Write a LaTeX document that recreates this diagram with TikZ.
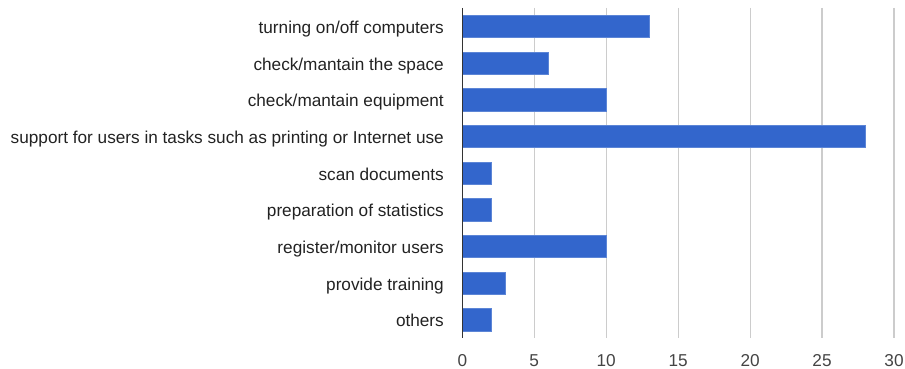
\documentclass[tikz,border=0pt]{standalone}
\usepackage{fontspec}
\setmainfont{Liberation Sans}
\definecolor{barblue}{HTML}{3366CC}
\definecolor{gridgray}{HTML}{CCCCCC}
\definecolor{axisdark}{HTML}{333333}
\definecolor{labeltext}{HTML}{222222}
\definecolor{ticktext}{HTML}{444444}
\begin{document}
\begin{tikzpicture}[x=1pt,y=-1pt,
  bar/.style={fill=barblue,draw=barblue!80!white,line width=0.6pt},
  gridline/.style={draw=gridgray,line width=1.2pt},
  axisline/.style={draw=axisdark,line width=1.3pt},
  catlabel/.style={anchor=east,inner sep=0pt,text=labeltext,
    font=\fontsize{17.2}{20}\selectfont,text height=14.5pt,text depth=0pt},
  ticklabel/.style={anchor=center,inner sep=0pt,text=ticktext,
    font=\fontsize{17.2}{20}\selectfont,text height=12pt,text depth=0pt}]
  \useasboundingbox (0,0) rectangle (905,369);
  % value axis scale: 0 at x=462.3, 14.39 per unit; plot from y=8 to y=338
  \def\xz{462.3}
  \def\xu{14.39}
  \def\ytop{8}
  \def\ybot{338}
  \def\ystep{36.667}
  % vertical grid lines and tick labels
  \foreach \v in {5,10,...,30} {
    \draw[gridline] ({\xz+\v*\xu},\ytop) -- ({\xz+\v*\xu},\ybot);
  }
  \foreach \v in {0,5,...,30} {
    \node[ticklabel] (tick\v) at ({\xz+\v*\xu},360) {\v};
  }
  % bars with their category labels
  \foreach \lab/\val [count=\i from 0] in {
    {turning on/off computers}/13,
    {check/mantain the space}/6,
    {check/mantain equipment}/10,
    {support for users in tasks such as printing or Internet use}/28,
    {scan documents}/2,
    {preparation of statistics}/2,
    {register/monitor users}/10,
    {provide training}/3,
    {others}/2} {
    \pgfmathsetmacro{\yc}{\ytop+\ystep*(\i+0.5)}
    \path[bar] (\xz,\yc-11.2) rectangle ({\xz+\val*\xu},\yc+11.2);
    \node[catlabel] (cat\i) at (444,\yc) {\lab};
  }
  % category axis
  \draw[axisline] (\xz,\ytop) -- (\xz,\ybot);
\end{tikzpicture}
\end{document}
